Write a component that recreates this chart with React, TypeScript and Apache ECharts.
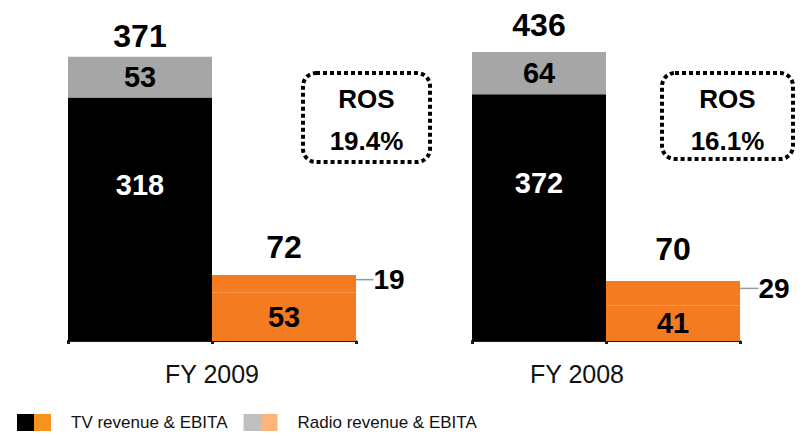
import React, { useEffect, useRef } from "react";
import * as echarts from "echarts";

const groups = ["FY 2009", "FY 2008"];
const barCategories = ["Revenue", "EBITA"];
const tvRevenue = [318, 372];
const radioRevenue = [53, 64];
const totalRevenue = [371, 436];
const tvEbita = [53, 41];
const radioEbita = [19, 29];
const totalEbita = [72, 70];
const rosTitle = "ROS";
const rosLabels = ["19.4%", "16.1%"];
const legendNames = ["TV revenue & EBITA", "Radio revenue & EBITA"];

const NARROW = "'Liberation Sans Narrow', 'Arial Narrow', 'Liberation Sans', Arial, sans-serif";
const SANS = "'Liberation Sans', Arial, sans-serif";
const BLACK = "#000000";
const GRAY = "#A6A6A6";
const ORANGE = "#F47B20";
const LEGEND_ORANGE = "#F7921E";
const LEGEND_GRAY = "#BFBFBF";
const LEGEND_LIGHT_ORANGE = "#FAB47C";

const layout = [
  { left: 68, width: 288, revMax: 393, ebitMax: 328, revDist: 5, ebitDist: 12, namePad: [0, 0, 0, 0], labelDx: 105, labelDy: -4, box: { x: 303, y: 73, w: 127, h: 89 } },
  { left: 472, width: 268, revMax: 454, ebitMax: 351, revDist: 11, ebitDist: 16, namePad: [0, 58, 0, 0], labelDx: 101, labelDy: -5, box: { x: 662, y: 73, w: 131, h: 86 } },
];

function split(c1: string, c2: string) {
  return {
    type: "linear", x: 0, y: 0, x2: 1, y2: 0,
    colorStops: [
      { offset: 0, color: c1 }, { offset: 0.5, color: c1 },
      { offset: 0.5, color: c2 }, { offset: 1, color: c2 },
    ],
  };
}

export default function App() {
  const ref = useRef<HTMLDivElement>(null);
  useEffect(() => {
    document.body.style.margin = "0";
    const chart = echarts.init(ref.current!, null, { renderer: "svg" });
    const grid: any[] = [];
    const xAxis: any[] = [];
    const yAxis: any[] = [];
    const series: any[] = [];
    const graphic: any[] = [];
    const inner = (color: string, size: number) => ({
      show: true, position: "inside", color, fontSize: size, fontWeight: "bold", fontFamily: NARROW,
    });
    groups.forEach((g, i) => {
      const L = layout[i];
      grid.push({ left: L.left, width: L.width, top: 40, bottom: 95 });
      xAxis.push({
        type: "category", gridIndex: i, data: barCategories,
        axisLine: { show: true, lineStyle: { color: "#1a1a1a", width: 2 } },
        axisTick: { show: true, length: 3, lineStyle: { color: "#1a1a1a", width: 3 } },
        axisLabel: { show: false },
        name: g, nameLocation: "middle", nameGap: 20,
        nameTextStyle: { fontSize: 25, fontFamily: NARROW, color: "#111", padding: L.namePad },
      });
      yAxis.push({ type: "value", gridIndex: i, min: 0, max: L.revMax, show: false, splitLine: { show: false } });
      yAxis.push({ type: "value", gridIndex: i, min: 0, max: L.ebitMax, show: false, splitLine: { show: false } });
      const common = { type: "bar", xAxisIndex: i, barWidth: "100%", barGap: "-100%" };
      series.push({
        ...common, name: legendNames[0], stack: "rev" + i, yAxisIndex: 2 * i,
        data: [tvRevenue[i], "-"], itemStyle: { color: BLACK },
        label: { ...inner("#ffffff", 29), position: ["50%", "36%"], align: "center", verticalAlign: "middle" },
      });
      series.push({
        ...common, name: legendNames[1], stack: "rev" + i, yAxisIndex: 2 * i,
        data: [radioRevenue[i], "-"], itemStyle: { color: GRAY },
        label: inner("#000", 29),
      });
      series.push({
        ...common, name: legendNames[0], stack: "ebit" + i, yAxisIndex: 2 * i + 1,
        data: ["-", tvEbita[i]], itemStyle: { color: ORANGE },
        label: inner("#000", 29),
      });
      series.push({
        ...common, name: legendNames[1], stack: "ebit" + i, yAxisIndex: 2 * i + 1,
        data: ["-", radioEbita[i]], itemStyle: { color: ORANGE },
        label: inner("#000", 28),
        labelLayout: { dx: L.labelDx, dy: L.labelDy },
        labelLine: { show: true, lineStyle: { color: "#9a9a9a", width: 1.5 } },
      });
      series.push({
        ...common, name: "Total revenue", yAxisIndex: 2 * i,
        data: [totalRevenue[i], "-"], itemStyle: { color: "rgba(0,0,0,0)" }, silent: true,
        label: { show: true, position: "top", distance: L.revDist, color: "#000", fontSize: 32, fontWeight: "bold", fontFamily: NARROW },
      });
      series.push({
        ...common, name: "Total EBITA", yAxisIndex: 2 * i + 1,
        data: ["-", totalEbita[i]], itemStyle: { color: "rgba(0,0,0,0)" }, silent: true,
        label: { show: true, position: "top", distance: L.ebitDist, color: "#000", fontSize: 32, fontWeight: "bold", fontFamily: NARROW },
      });
      const b = L.box;
      graphic.push({
        type: "rect",
        shape: { x: b.x, y: b.y, width: b.w, height: b.h, r: 13 },
        style: { fill: "none", stroke: "#000", lineWidth: 4, lineDash: [4, 3] },
      });
      graphic.push({
        type: "text", x: b.x + b.w / 2, y: b.y + 26,
        style: { text: rosTitle, align: "center", verticalAlign: "middle", fontSize: 26, fontWeight: "bold", fontFamily: NARROW, fill: "#000" },
      });
      graphic.push({
        type: "text", x: b.x + b.w / 2, y: b.y + 68,
        style: { text: rosLabels[i], align: "center", verticalAlign: "middle", fontSize: 26, fontWeight: "bold", fontFamily: NARROW, fill: "#000" },
      });
    });
    chart.setOption({
      animation: false,
      backgroundColor: "#ffffff",
      grid, xAxis, yAxis, series, graphic,
      legend: {
        left: 12, top: 409, itemWidth: 34, itemHeight: 17, itemGap: 16, icon: "rect",
        selectedMode: false,
        textStyle: { fontSize: 17, fontFamily: SANS, color: "#111", padding: [0, 0, 0, 15] },
        data: [
          { name: legendNames[0], itemStyle: { color: split(BLACK, LEGEND_ORANGE) } },
          { name: legendNames[1], itemStyle: { color: split(LEGEND_GRAY, LEGEND_LIGHT_ORANGE) } },
        ],
      },
    });
    return () => chart.dispose();
  }, []);
  return <div ref={ref} style={{ width: 803, height: 436 }} />;
}
